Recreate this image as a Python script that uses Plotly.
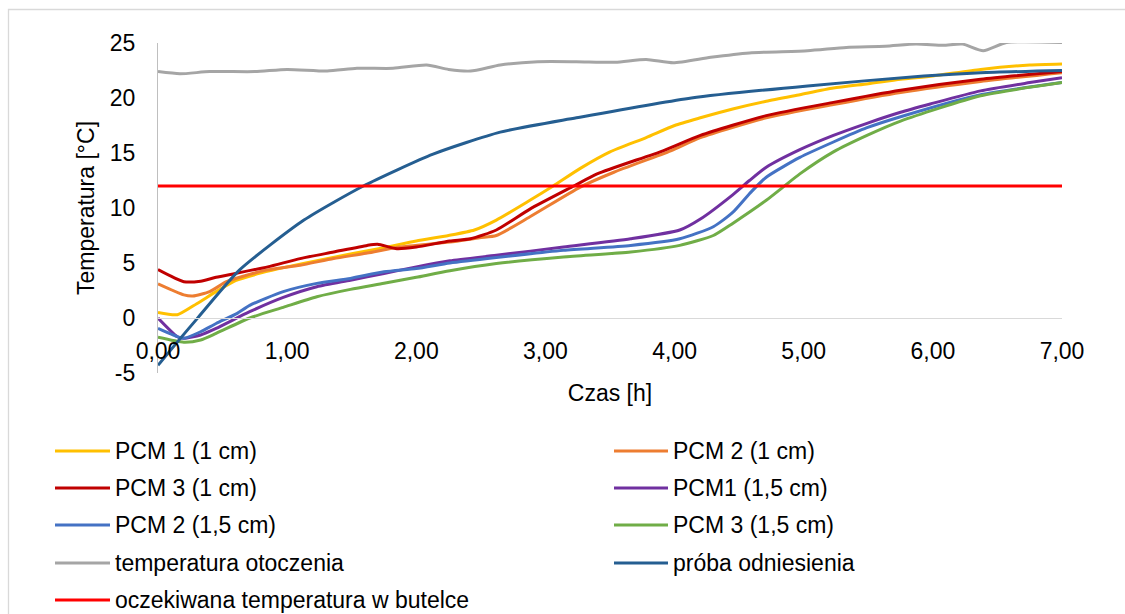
import plotly.graph_objects as go

# ---------------- data ----------------
t_pcm1_1 = [0, 0.15, 0.3, 0.45, 0.6, 0.8, 1.0, 1.25, 1.5, 1.75, 2.0, 2.25, 2.45, 2.62, 2.88, 3.06, 3.27, 3.5, 3.78, 4.0, 4.2, 4.45, 4.71, 4.97, 5.23, 5.5, 5.75, 6.0, 6.37, 6.75, 7.0]
v_pcm1_1 = [0.5, 0.3, 1.3, 2.4, 3.4, 4.1, 4.65, 5.25, 5.85, 6.4, 7.0, 7.5, 8.0, 8.9, 10.7, 12.0, 13.6, 15.1, 16.4, 17.5, 18.2, 19.0, 19.7, 20.3, 20.9, 21.3, 21.7, 22.0, 22.6, 23.0, 23.1]

t_pcm2_1 = [0, 0.2, 0.27, 0.4, 0.53, 0.66, 0.84, 1.1, 1.36, 1.62, 1.87, 2.26, 2.49, 2.62, 2.88, 3.27, 3.53, 3.97, 4.2, 4.71, 5.23, 5.75, 6.37, 7.0]
v_pcm2_1 = [3.1, 2.1, 2.0, 2.4, 3.3, 3.8, 4.35, 4.8, 5.4, 5.9, 6.45, 6.9, 7.3, 7.5, 9.2, 11.9, 13.25, 15.2, 16.4, 18.2, 19.4, 20.5, 21.5, 22.3]

t_pcm3_1 = [0, 0.2, 0.33, 0.45, 0.6, 0.85, 1.1, 1.36, 1.62, 1.7, 1.85, 2.0, 2.26, 2.42, 2.62, 2.88, 3.22, 3.4, 3.91, 4.2, 4.71, 5.23, 5.75, 6.37, 7.0]
v_pcm3_1 = [4.4, 3.3, 3.35, 3.7, 4.05, 4.65, 5.4, 6.0, 6.6, 6.7, 6.3, 6.45, 7.0, 7.2, 8.0, 9.9, 12.0, 13.1, 15.2, 16.6, 18.4, 19.6, 20.7, 21.7, 22.4]

t_pcm1_15 = [0, 0.15, 0.2, 0.33, 0.45, 0.71, 0.97, 1.23, 1.49, 1.75, 2.0, 2.26, 2.62, 3.14, 3.66, 4.04, 4.2, 4.45, 4.58, 4.71, 4.97, 5.23, 5.49, 5.75, 5.98, 6.37, 6.75, 7.0]
v_pcm1_15 = [0.0, -1.7, -1.85, -1.55, -0.95, 0.57, 1.87, 2.84, 3.44, 4.05, 4.65, 5.2, 5.7, 6.45, 7.2, 8.0, 9.0, 11.2, 12.5, 13.7, 15.3, 16.6, 17.7, 18.7, 19.45, 20.65, 21.4, 21.85]

t_pcm2_15 = [0, 0.15, 0.2, 0.33, 0.45, 0.61, 0.71, 0.97, 1.23, 1.49, 1.75, 2.0, 2.26, 2.62, 3.14, 3.66, 4.04, 4.3, 4.45, 4.58, 4.71, 4.97, 5.23, 5.49, 5.75, 6.37, 7.0]
v_pcm2_15 = [-0.95, -1.7, -1.85, -1.25, -0.5, 0.4, 1.15, 2.4, 3.15, 3.6, 4.2, 4.5, 5.0, 5.5, 6.15, 6.6, 7.2, 8.3, 9.6, 11.3, 12.8, 14.6, 16.0, 17.3, 18.3, 20.3, 21.4]

t_pcm3_15 = [0, 0.2, 0.33, 0.45, 0.71, 0.97, 1.23, 1.49, 1.75, 2.0, 2.26, 2.62, 3.14, 3.66, 4.04, 4.3, 4.45, 4.71, 4.84, 4.97, 5.23, 5.49, 5.75, 6.37, 7.0]
v_pcm3_15 = [-1.75, -2.2, -2.0, -1.4, 0.0, 0.97, 1.93, 2.6, 3.15, 3.7, 4.3, 4.95, 5.55, 6.0, 6.6, 7.5, 8.6, 10.7, 11.9, 13.1, 15.1, 16.6, 17.9, 20.2, 21.4]

t_ambient = [0, 0.17, 0.4, 0.75, 1.0, 1.31, 1.54, 1.82, 2.08, 2.25, 2.42, 2.65, 2.94, 3.24, 3.54, 3.78, 3.99, 4.28, 4.58, 5.03, 5.33, 5.63, 5.87, 6.08, 6.23, 6.39, 6.57, 7.0]
v_ambient = [22.4, 22.2, 22.4, 22.4, 22.6, 22.45, 22.7, 22.7, 23.0, 22.6, 22.45, 23.0, 23.3, 23.3, 23.25, 23.5, 23.2, 23.7, 24.1, 24.3, 24.6, 24.7, 24.9, 24.8, 24.9, 24.3, 25.05, 25.05]

t_reference = [0, 0.17, 0.3, 0.63, 1.13, 1.59, 2.13, 2.65, 3.24, 4.13, 5.03, 5.93, 6.37, 7.0]
v_reference = [-4.3, -1.9, -0.1, 4.35, 8.9, 12.0, 14.9, 16.9, 18.2, 20.0, 21.1, 22.0, 22.3, 22.5]

t_expected = [0, 7.0]
v_expected = [12, 12]

series_names = ["PCM 1 (1 cm)", "PCM 2 (1 cm)", "PCM 3 (1 cm)",
                "PCM1 (1,5 cm)", "PCM 2 (1,5 cm)", "PCM 3 (1,5 cm)",
                "temperatura otoczenia", "próba odniesienia",
                "oczekiwana temperatura w butelce"]

x_tick_vals = [0, 1, 2, 3, 4, 5, 6, 7]
x_tick_text = ["0,00", "1,00", "2,00", "3,00", "4,00", "5,00", "6,00", "7,00"]
y_tick_vals = [-5, 0, 5, 10, 15, 20, 25]
y_tick_text = ["-5", "0", "5", "10", "15", "20", "25"]

# ---------------- styles ----------------
colors = ["#FFC000", "#ED7D31", "#C00000", "#7030A0", "#4472C4",
          "#70AD47", "#A5A5A5", "#255E91", "#FF0000"]
xs = [t_pcm1_1, t_pcm2_1, t_pcm3_1, t_pcm1_15, t_pcm2_15, t_pcm3_15,
      t_ambient, t_reference, t_expected]
ys = [v_pcm1_1, v_pcm2_1, v_pcm3_1, v_pcm1_15, v_pcm2_15, v_pcm3_15,
      v_ambient, v_reference, v_expected]

FONT = "Liberation Sans, Arial, sans-serif"
FS = 23
W, H = 1125, 614
L, R, T, B = 158, 1062, 43, 373  # plot area in page pixels


def px(x, y):
    return (x - L) / (R - L), (B - y) / (B - T)


fig = go.Figure()
for name, x, y, c in zip(series_names, xs, ys, colors):
    fig.add_trace(go.Scatter(
        x=x, y=y, name=name, mode="lines",
        line=dict(color=c, width=3, shape="spline", smoothing=0.6),
        showlegend=False, hoverinfo="x+y+name"))

shapes = []
annotations = []

# outer chart border (only top/left visible in the reference)
bx0, by0 = px(8.5, 9.5)
bx1, by1 = px(1140, 630)
shapes.append(dict(type="rect", xref="paper", yref="paper",
                   x0=bx0, y0=by1, x1=bx1, y1=by0,
                   line=dict(color="#D9D9D9", width=1.3), layer="below"))

# manual legend (two columns, row-major order)
rows_y = [451, 488, 525, 563, 600]
cols = [(55, 110, 114), (614, 668, 672)]
for i, (name, c) in enumerate(zip(series_names, colors)):
    r, col = divmod(i, 2)
    lx0, lx1, tx = cols[col]
    yy = rows_y[r]
    a0, b0 = px(lx0, yy)
    a1, _ = px(lx1, yy)
    shapes.append(dict(type="line", xref="paper", yref="paper",
                       x0=a0, y0=b0, x1=a1, y1=b0,
                       line=dict(color=c, width=3)))
    ta, tb = px(tx, yy)
    annotations.append(dict(text=name, xref="paper", yref="paper",
                            x=ta, y=tb, xanchor="left", yanchor="middle",
                            showarrow=False, borderpad=0,
                            font=dict(family=FONT, size=FS, color="#000000")))

fig.update_layout(
    width=W, height=H,
    margin=dict(l=L, r=W - R, t=T, b=H - B, autoexpand=False),
    paper_bgcolor="white", plot_bgcolor="white",
    font=dict(family=FONT, size=FS, color="#000000"),
    shapes=shapes, annotations=annotations,
    xaxis=dict(
        range=[0, 7], tickvals=x_tick_vals, ticktext=x_tick_text,
        anchor="free", position=5 / 30,
        showline=True, linecolor="#D9D9D9", linewidth=1.3,
        showgrid=False, zeroline=False, ticks="",
        ticklabelstandoff=12,
        tickfont=dict(family=FONT, size=FS, color="#000000"),
        title=dict(text="Czas [h]", standoff=22,
                   font=dict(family=FONT, size=FS, color="#000000")),
        automargin=False),
    yaxis=dict(
        range=[-5, 25], tickvals=y_tick_vals, ticktext=y_tick_text,
        showline=True, linecolor="#BFBFBF", linewidth=1.3,
        showgrid=False, zeroline=False, ticks="",
        ticklabelstandoff=17,
        tickfont=dict(family=FONT, size=FS, color="#000000"),
        title=dict(text="Temperatura [°C]", standoff=8,
                   font=dict(family=FONT, size=FS, color="#000000")),
        automargin=False),
)

fig.write_html(
    "out.html",
    config={"displayModeBar": False},
    post_script="document.body.style.margin='0';"
                "document.body.style.overflow='hidden';"
                "document.documentElement.style.overflow='hidden';")
